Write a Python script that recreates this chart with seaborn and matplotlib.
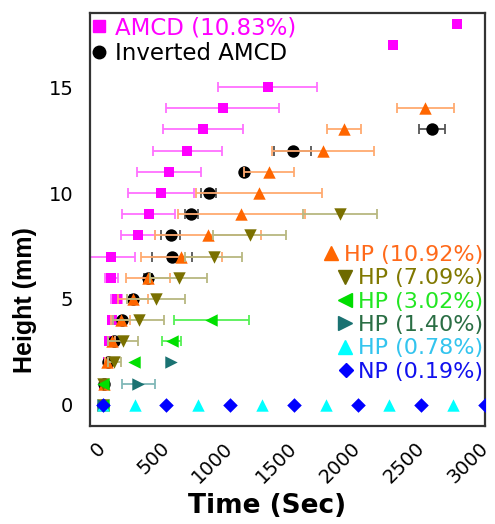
import numpy as np
import pandas as pd
import matplotlib
matplotlib.use("Agg")
import matplotlib.pyplot as plt
from matplotlib.lines import Line2D
from matplotlib.ticker import MultipleLocator
import seaborn as sns

# ---------------- data ----------------
amcd_y = [0, 1, 2, 3, 4, 5, 6, 7, 8, 9, 10, 11, 12, 13, 14, 15, 17, 18]
amcd_x = [0, 13, 39, 50, 70, 110, 66, 66, 275, 361, 459, 518, 663, 785, 942, 1294, 2276, 2778]
amcd_err = [0, 5, 10, 15, 20, 42, 52, 191, 133, 207, 258, 250, 270, 315, 445, 390, 0, 0]

inv_y = [0, 1, 2, 3, 4, 5, 6, 7, 8, 9, 10, 11, 12, 13]
inv_x = [0, 13, 39, 92, 152, 236, 354, 545, 532, 694, 830, 1108, 1492, 2584]
inv_err = [0, 0, 5, 10, 15, 20, 30, 157, 72, 52, 62, 0, 145, 100]

hp1092_y = [0, 1, 2, 3, 4, 5, 6, 7, 8, 9, 10, 11, 12, 13, 14]
hp1092_x = [0, 10, 30, 70, 140, 236, 354, 616, 825, 1087, 1223, 1304, 1728, 1893, 2532]
hp1092_err = [0, 0, 10, 30, 75, 118, 170, 317, 415, 497, 495, 196, 398, 133, 225]

hp709_y = [0, 1, 2, 3, 4, 5, 6, 7, 8, 9]
hp709_x = [0, 5, 92, 157, 283, 419, 597, 872, 1152, 1865]
hp709_err = [0, 0, 53, 118, 200, 230, 223, 223, 285, 290]

hp302_y = [0, 1, 2, 3, 4]
hp302_x = [0, 5, 243, 542, 851]
hp302_err = [0, 0, 0, 75, 295]

hp140_y = [0, 1, 2]
hp140_x = [0, 280, 532]
hp140_err = [0, 132, 0]

hp078_y = [0, 0, 0, 0, 0, 0, 0]
hp078_x = [0, 250, 750, 1250, 1750, 2250, 2750]

np019_y = [0, 0, 0, 0, 0, 0, 0]
np019_x = [0, 500, 1000, 1500, 2000, 2500, 3000]

labels_top = ["AMCD (10.83%)", "Inverted AMCD"]
labels_hp = ["HP (10.92%)", "HP (7.09%)", "HP (3.02%)", "HP (1.40%)", "HP (0.78%)", "NP (0.19%)"]

x_ticks = [0, 500, 1000, 1500, 2000, 2500, 3000]
y_ticks = [0, 5, 10, 15]

# ---------------- style ----------------
sns.set_style("white")
plt.rcParams['font.family'] = ['Liberation Sans', 'DejaVu Sans']
plt.rcParams['text.color'] = 'black'
plt.rcParams['axes.labelcolor'] = 'black'

fig = plt.figure(figsize=(4.95, 5.24), dpi=100)
ax = fig.add_axes([90 / 495, 1 - 426 / 524, 395 / 495, 413 / 524])

series = [
    # x, y, err, marker, size, marker colour, errorbar colour
    (amcd_x, amcd_y, amcd_err, 's', 55, '#FF00FF', '#FF70FF'),
    (inv_x, inv_y, inv_err, 'o', 80, '#000000', '#555555'),
    (hp1092_x, hp1092_y, hp1092_err, '^', 80, '#FF6600', '#FFAA70'),
    (hp709_x, hp709_y, hp709_err, 'v', 80, '#7A7000', '#B8B880'),
    (hp302_x, hp302_y, hp302_err, '<', 80, '#00E000', '#55F055'),
    (hp140_x, hp140_y, hp140_err, '>', 80, '#1A7272', '#80B8B8'),
    (hp078_x, hp078_y, None, '^', 80, '#00FFFF', '#00FFFF'),
    (np019_x, np019_y, None, 'D', 55, '#0000FF', '#0000FF'),
]

z = 2
for xs, ys, errs, mk, sz, col, ecol in series:
    if errs is not None:
        xe = np.array(xs, float)
        ye = np.array(ys, float)
        ee = np.array(errs, float)
        m = ee > 0
        ax.errorbar(xe[m], ye[m], xerr=ee[m], fmt='none', ecolor=ecol,
                    elinewidth=1.3, capsize=3.5, capthick=1.3, zorder=z)
    df = pd.DataFrame({"x": xs, "y": ys})
    sns.scatterplot(data=df, x="x", y="y", marker=mk, s=sz, color=col,
                    linewidth=0, ax=ax, zorder=z + 0.5, legend=False)
    z += 1

ax.set_xlim(-100, 3000)
ax.set_ylim(-1.0, 18.5)
ax.set_xticks(x_ticks)
ax.set_yticks(y_ticks)
ax.xaxis.set_minor_locator(MultipleLocator(250))
ax.yaxis.set_minor_locator(MultipleLocator(2.5))
ax.tick_params(which='both', direction='in', color='#333333', width=1.5,
               labelcolor='black')
ax.tick_params(which='major', length=7, labelsize=14)
ax.tick_params(which='minor', length=4)
ax.tick_params(axis='y', which='major', length=8, pad=12)
ax.tick_params(axis='x', which='major', pad=14, labelrotation=45)
plt.setp(ax.get_xticklabels(), ha='right', va='center', rotation_mode='anchor',
         family=['DejaVu Sans'])
plt.setp(ax.get_yticklabels(), family=['DejaVu Sans'])

for sp in ax.spines.values():
    sp.set_visible(True)
    sp.set_color('#333333')
    sp.set_linewidth(1.6)

ax.set_xlabel("Time (Sec)", fontsize=19, fontweight='bold', family=['DejaVu Sans'])
ax.set_ylabel("Height (mm)", fontsize=18, fontweight='bold')
ax.xaxis.set_label_coords(0.449, -0.163)
ax.yaxis.set_label_coords(-0.135, 0.305)

# ---------------- legends ----------------
h1 = [Line2D([], [], marker='s', ls='none', color='#FF00FF', ms=8),
      Line2D([], [], marker='o', ls='none', color='#000000', ms=9)]
leg1 = ax.legend(h1, labels_top, loc='upper left', bbox_to_anchor=(0.0, 1 - 1 / 413),
                 prop={'family': ['DejaVu Sans'], 'size': 16.5}, frameon=False,
                 labelcolor=['#FF00FF', '#000000'],
                 handlelength=0.6, handletextpad=0.4, labelspacing=0.13,
                 borderpad=0.1, borderaxespad=0.0)
ax.add_artist(leg1)

h2 = [Line2D([], [], marker='^', ls='none', color='#FF6600', ms=10),
      Line2D([], [], marker='v', ls='none', color='#6E6A00', ms=10),
      Line2D([], [], marker='<', ls='none', color='#00DD00', ms=10),
      Line2D([], [], marker='>', ls='none', color='#1A7272', ms=10),
      Line2D([], [], marker='^', ls='none', color='#00FFFF', ms=10),
      Line2D([], [], marker='D', ls='none', color='#0000FF', ms=7.5)]
leg2 = ax.legend(h2, labels_hp, loc='lower right', bbox_to_anchor=(1.0, 0.102),
                 prop={'family': ['DejaVu Sans'], 'size': 16}, frameon=False,
                 labelcolor=['#FF6A1A', '#807800', '#22E622', '#2A6E44', '#33C4EE', '#1111EE'],
                 handlelength=0.7, handletextpad=0.2, labelspacing=0.15,
                 borderpad=0.1, borderaxespad=0.0)
for col in leg2._legend_handle_box.get_children():
    col.align = 'right'

fig.savefig("out.png", dpi=100)
